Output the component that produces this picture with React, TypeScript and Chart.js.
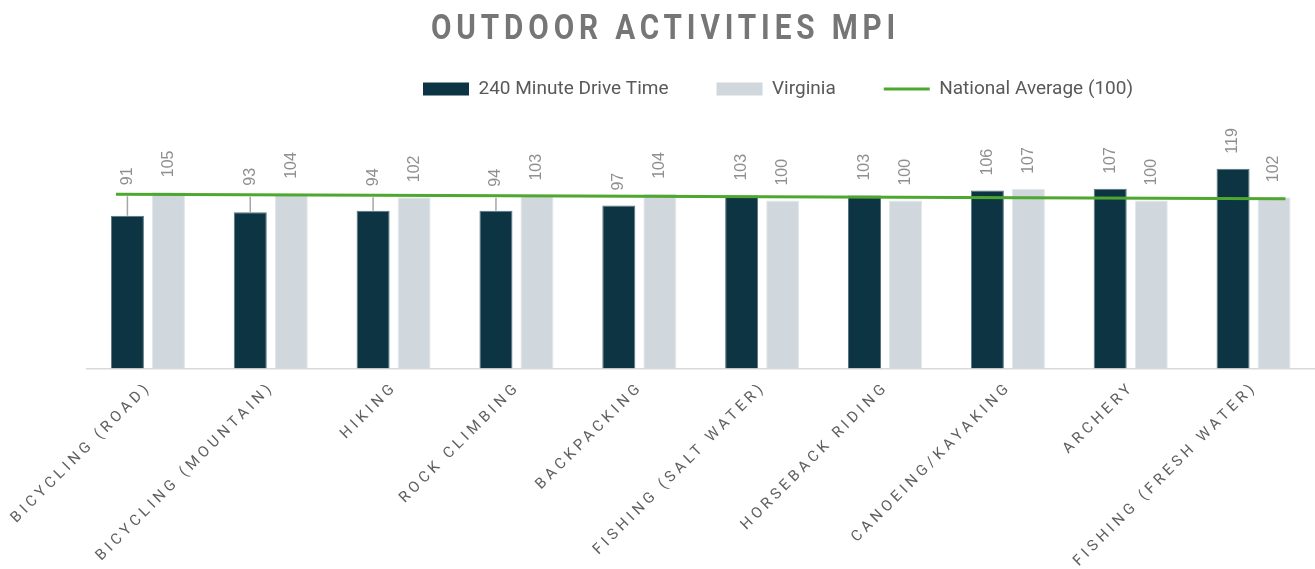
import React, { useEffect, useRef } from "react";
import { Chart, registerables } from "chart.js";

Chart.register(...registerables);

const chartTitle = "OUTDOOR ACTIVITIES MPI";
const categories = [
  "BICYCLING (ROAD)",
  "BICYCLING (MOUNTAIN)",
  "HIKING",
  "ROCK CLIMBING",
  "BACKPACKING",
  "FISHING (SALT WATER)",
  "HORSEBACK RIDING",
  "CANOEING/KAYAKING",
  "ARCHERY",
  "FISHING (FRESH WATER)",
];
const driveTimeLabel = "240 Minute Drive Time";
const driveTime = [91, 93, 94, 94, 97, 103, 103, 106, 107, 119];
const virginiaLabel = "Virginia";
const virginia = [105, 104, 102, 103, 104, 100, 100, 107, 100, 102];
const nationalLabel = "National Average (100)";
const nationalX = [-0.26, 9.26];
const nationalY = [103.8, 101.1];

const DARK = "#0c3443";
const LIGHT = "#d0d8de";
const GREEN = "#4ea72e";

export default function App() {
  const ref = useRef<HTMLCanvasElement | null>(null);

  useEffect(() => {
    document.body.style.margin = "0";
    const canvas = ref.current;
    if (!canvas) return;

    const lineYAt = (chart: any, x: number) => {
      const meta = chart.getDatasetMeta(2);
      const p0 = meta.data[0];
      const p1 = meta.data[1];
      if (!p0 || !p1) return 0;
      const t = (x - p0.x) / (p1.x - p0.x);
      return p0.y + t * (p1.y - p0.y);
    };

    const customPlugin = {
      id: "custom",
      afterInit(chart: any) {
        const lg = chart.legend;
        if (lg) {
          const orig = lg.fit;
          lg.fit = function () {
            orig.call(this);
            this.height = 133.4;
          };
        }
      },
      afterLayout(chart: any) {
        const lg = chart.legend;
        if (lg) {
          lg.left = 375;
          lg.top = 31.5;
        }
      },
      afterDatasetsDraw(chart: any) {
        const ctx = chart.ctx;
        ctx.save();
        ctx.font = '16px "Liberation Sans", Arial, sans-serif';
        ctx.fillStyle = "#8f8f8f";
        [0, 1].forEach((di) => {
          const meta = chart.getDatasetMeta(di);
          const values = di === 0 ? driveTime : virginia;
          meta.data.forEach((bar: any, j: number) => {
            const cx = bar.x;
            const top = bar.y;
            let bottom = top - 15;
            if (di === 0) {
              const ly = lineYAt(chart, cx);
              if (bottom > ly - 4) {
                bottom = ly - 9;
                ctx.save();
                ctx.strokeStyle = "#a6a6a6";
                ctx.lineWidth = 1.5;
                ctx.beginPath();
                ctx.moveTo(cx, ly + 2);
                ctx.lineTo(cx, top);
                ctx.stroke();
                ctx.restore();
              }
            }
            ctx.save();
            ctx.translate(cx, bottom);
            ctx.rotate(-Math.PI / 2);
            ctx.textAlign = "left";
            ctx.textBaseline = "middle";
            ctx.fillText(String(values[j]), 0, 0);
            ctx.restore();
          });
        });
        ctx.restore();
      },
      afterDraw(chart: any) {
        const ctx = chart.ctx;
        // title
        ctx.save();
        ctx.fillStyle = "#767676";
        ctx.font = "bold 35px Roboto";
        (ctx as any).letterSpacing = "5.7px";
        ctx.textAlign = "left";
        ctx.textBaseline = "alphabetic";
        ctx.translate(431, 39);
        ctx.scale(0.85, 1);
        ctx.fillText(chartTitle, 0, 0);
        ctx.restore();
        // x labels
        const xs = chart.scales.x;
        const axisY = chart.chartArea.bottom;
        ctx.save();
        ctx.fillStyle = "#606060";
        ctx.font = "15px Roboto";
        (ctx as any).letterSpacing = "4px";
        categories.forEach((c, j) => {
          const x = xs.getPixelForValue(j);
          ctx.save();
          ctx.translate(x + 4, axisY + 19);
          ctx.rotate(-Math.PI / 4);
          ctx.textAlign = "right";
          ctx.textBaseline = "alphabetic";
          ctx.fillText(c, 0, 0);
          ctx.restore();
        });
        ctx.restore();
      },
    };

    const chart = new Chart(canvas, {
      type: "bar",
      data: {
        datasets: [
          {
            label: driveTimeLabel,
            data: driveTime.map((v, j) => ({ x: j, y: v })),
            backgroundColor: DARK,
            borderColor: "#587580",
            borderWidth: 1,
            categoryPercentage: 0.668,
            barPercentage: 0.805,
            order: 1,
          },
          {
            label: virginiaLabel,
            data: virginia.map((v, j) => ({ x: j, y: v })),
            backgroundColor: LIGHT,
            borderColor: "#e2e7ea",
            borderWidth: 1,
            categoryPercentage: 0.668,
            barPercentage: 0.805,
            order: 1,
          },
          {
            type: "line",
            label: nationalLabel,
            data: nationalX.map((x, i) => ({ x, y: nationalY[i] })),
            borderColor: GREEN,
            backgroundColor: GREEN,
            borderWidth: 3,
            pointRadius: 0,
            tension: 0,
            fill: false,
            order: 0,
          } as any,
        ],
      },
      options: {
        animation: false,
        responsive: false,
        devicePixelRatio: 1,
        events: [],
        layout: { padding: { top: 0, left: 86.5, right: 0, bottom: 200.5 } },
        scales: {
          x: {
            type: "linear",
            min: -0.5,
            max: 9.5,
            offset: false,
            grid: { display: false, drawTicks: false },
            border: { display: true, color: "#d9d9d9", width: 1.5 },
            ticks: { display: false },
            afterBuildTicks: (scale: any) => {
              scale.ticks = categories.map((_, j) => ({ value: j }));
            },
          },
          y: {
            display: false,
            min: 0,
            max: 140,
          },
        },
        plugins: {
          title: { display: false },
          tooltip: { enabled: false },
          legend: {
            display: true,
            position: "top",
            align: "start",
            labels: {
              color: "#595959",
              font: { family: "Roboto", size: 19 },
              usePointStyle: true,
              pointStyleWidth: 46,
              boxHeight: 13,
              padding: 48,
              generateLabels: (ch: any) =>
                ch.data.datasets.map((ds: any, i: number) => ({
                  text: ds.label,
                  fillStyle: i === 2 ? GREEN : ds.backgroundColor,
                  strokeStyle: i === 2 ? GREEN : ds.backgroundColor,
                  lineWidth: i === 2 ? 3 : 0,
                  pointStyle: i === 2 ? "line" : "rect",
                  hidden: false,
                  datasetIndex: i,
                  fontColor: "#595959",
                })),
            },
          },
        },
      },
      plugins: [customPlugin],
    } as any);

    return () => chart.destroy();
  }, []);

  return (
    <div style={{ width: 1315, height: 569 }}>
      <canvas ref={ref} width={1315} height={569} style={{ display: "block" }} />
    </div>
  );
}
